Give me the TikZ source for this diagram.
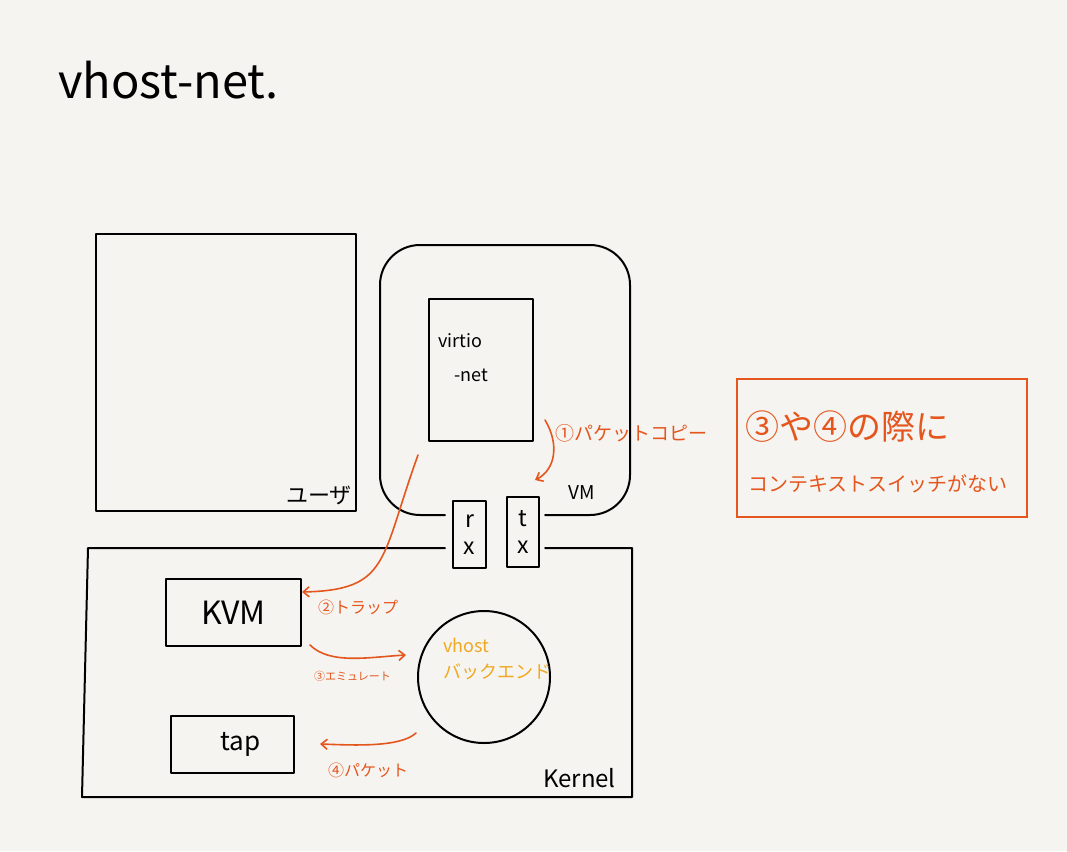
\documentclass[tikz,border=0pt]{standalone}
\usepackage{fontspec}
\setmainfont{Noto Sans CJK JP}
\usetikzlibrary{arrows.meta}
\definecolor{bg}{HTML}{F5F4F0}
\definecolor{ora}{HTML}{E5561E}
\definecolor{yel}{HTML}{F0A820}
\tikzset{
  pen/.style={draw=black, line width=2pt, line cap=round, line join=round},
  opn/.style={draw=ora, line width=1.6pt, line cap=round},
  oarr/.style={opn, -{Straight Barb[length=6pt,width=10pt]}},
  hand/.style={font=\fontsize{20}{22}\selectfont, inner sep=0pt},
  olab/.style={text=ora, font=\fontsize{16}{18}\selectfont, inner sep=0pt},
}
\begin{document}
\begin{tikzpicture}[x=1pt,y=-1pt]
\fill[bg] (0,0) rectangle (1067,851);
\useasboundingbox (0,0) rectangle (1067,851);
% title
\node[hand, font=\fontsize{47}{49}\selectfont, anchor=west] (title) at (58,80) {vhost-net.};
% user box
\node[pen, minimum width=260pt, minimum height=277pt, anchor=north west, inner sep=0pt] (user) at (95,233) {};
\node[hand, anchor=south east, font=\fontsize{22}{24}\selectfont] (userlab) at (352,505) {ユーザ};
% VM box
\draw[pen, rounded corners=40pt] (445,515) -- (380,515) -- (380,245) -- (630,245) -- (630,515) -- (545,515);
\node[hand, font=\fontsize{19}{21}\selectfont] (vmlab) at (582,493) {VM};
% virtio
\node[pen, minimum width=104pt, minimum height=142pt, anchor=north west, inner sep=0pt] (virtio) at (428,298) {};
\node[hand, font=\fontsize{18}{20}\selectfont, align=left, anchor=north west] (virtiolab) at (438,333) {virtio\\[14pt]\hspace{16pt}-net};
% rx tx
\node[pen, minimum width=33pt, minimum height=67pt, anchor=north west, inner sep=0pt] (rx) at (452,500) {};
\node[hand, align=center, font=\fontsize{23}{27}\selectfont] at (rx.center) {r\\x};
\node[pen, minimum width=32pt, minimum height=70pt, anchor=north west, inner sep=0pt] (tx) at (506,496) {};
\node[hand, align=center, font=\fontsize{23}{27}\selectfont] at (tx.center) {t\\x};
% kernel box
\draw[pen] (445,548) -- (88,548) -- (82,797) -- (632,797) -- (632,548) -- (545,548);
\node[hand, anchor=south east, font=\fontsize{24}{26}\selectfont] (kernlab) at (616,788) {Kernel};
% KVM
\node[pen, minimum width=135pt, minimum height=67pt, anchor=north west, inner sep=0pt] (kvm) at (165,578) {};
\node[hand, font=\fontsize{32}{34}\selectfont] at (kvm.center) {KVM};
% tap
\node[pen, minimum width=123pt, minimum height=57pt, anchor=north west, inner sep=0pt] (tap) at (170,715) {};
\node[hand, font=\fontsize{26}{28}\selectfont] at ([xshift=8pt]tap.center) {tap};
% vhost circle
\node[pen, circle, minimum size=132pt, inner sep=0pt] (vhost) at (484,677) {};
\node[hand, text=yel, align=left, anchor=north west, font=\fontsize{18}{20}\selectfont] (vhostlab) at (443,638) {vhost\\[6pt]バックエンド};
% note box
\draw[draw=ora, line width=1.8pt] (737,379) rectangle (1027,517);
\coordinate (note) at (882,448);
\node[text=ora, font=\fontsize{34}{36}\selectfont, anchor=west, inner sep=0pt] (note1) at (745,427) {③や④の際に};
\node[text=ora, font=\fontsize{20}{22}\selectfont, anchor=west, inner sep=0pt] (note2) at (748,484) {コンテキストスイッチがない};
% arrows
\coordinate (a1s) at (545,420);
\coordinate (a1e) at (535,480);
\draw[oarr] (a1s) .. controls (560,445) and (555,470) .. (a1e);
\node[olab, anchor=west, font=\fontsize{19}{21}\selectfont] (l1) at (555,433) {①パケットコピー};
\coordinate (a2s) at (418,455);
\draw[oarr] (a2s) .. controls (380,560) and (390,590) .. (kvm.east |- 0,592);
\node[olab, anchor=west] (l2) at (318,607) {②トラップ};
\coordinate (a3s) at (310,645);
\coordinate (a3e) at (406,655);
\draw[oarr] (a3s) .. controls (330,665) and (370,657) .. (a3e);
\node[olab, anchor=west, font=\fontsize{11}{13}\selectfont] (l3) at (314,676) {③エミュレート};
\coordinate (a4s) at (416,733);
\coordinate (a4e) at (320,744);
\draw[oarr] (a4s) .. controls (400,748) and (350,745) .. (a4e);
\node[olab, anchor=west] (l4) at (328,770) {④パケット};
\end{tikzpicture}
\end{document}
